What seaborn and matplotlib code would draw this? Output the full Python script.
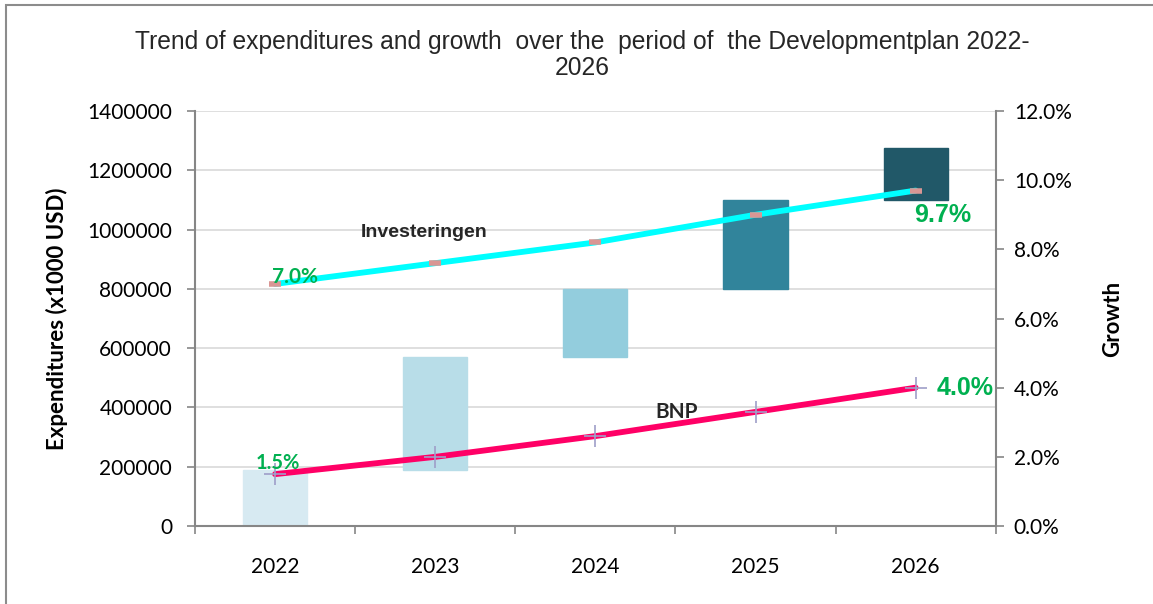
import numpy as np
import pandas as pd
import matplotlib
matplotlib.use("Agg")
import matplotlib.pyplot as plt
import seaborn as sns
from matplotlib.patches import Rectangle
from matplotlib.ticker import FuncFormatter, FixedLocator

# data
years = ["2022", "2023", "2024", "2025", "2026"]
exp_low = [0, 190000, 570000, 800000, 1100000]
exp_high = [190000, 570000, 800000, 1100000, 1275000]
invest_growth = [7.0, 7.6, 8.2, 9.0, 9.7]
bnp_growth = [1.5, 2.0, 2.6, 3.3, 4.0]
bar_colors = ["#d7eaf2", "#b8dde8", "#93cddd", "#31849b", "#215868"]

df = pd.DataFrame({"year": years,
                   "height": np.array(exp_high) - np.array(exp_low),
                   "low": exp_low})

sns.set_style("white")
plt.rcParams["font.family"] = ["Lato", "DejaVu Sans"]

fig = plt.figure(figsize=(11.53, 6.04), dpi=100)
ax = fig.add_axes([0.1691, 0.1291, 0.8636 - 0.1691, 0.8162 - 0.1291])

sns.barplot(data=df, x="year", y="height", bottom=df["low"].values,
            color=bar_colors[0], width=0.4, ax=ax, zorder=2)
for patch, c in zip(ax.patches, bar_colors):
    patch.set_facecolor(c)
    patch.set_edgecolor(c)

ax.set_ylim(0, 1400000)
ax.set_xlim(-0.5, 4.5)
ax.set_yticks(np.arange(0, 1400001, 200000))
ax.yaxis.set_major_formatter(FuncFormatter(lambda v, p: "%d" % v))
ax.grid(axis="y", color="#d9d9d9", linewidth=1.2, zorder=0)
ax.set_axisbelow(True)
ax.set_xlabel("")
ax.set_ylabel("Expenditures (x1000 USD)", fontsize=16, fontweight="bold", labelpad=14,
              color="black")
ax.tick_params(axis="y", labelsize=15, length=6, width=1.2, color="#868686", left=True,
               pad=10.5, labelcolor="black")
ax.tick_params(axis="x", which="major", labelsize=15, length=0, pad=22, labelcolor="black")
ax.xaxis.set_minor_locator(FixedLocator(np.arange(-0.5, 5, 1)))
ax.tick_params(axis="x", which="minor", length=6, width=1.2, color="#868686", bottom=True)
for s in ["top", "right"]:
    ax.spines[s].set_visible(False)
for s in ["left", "bottom"]:
    ax.spines[s].set_color("#868686")
    ax.spines[s].set_linewidth(1.5)

ax2 = ax.twinx()
xpos = np.arange(len(years))
sns.lineplot(x=xpos, y=invest_growth, ax=ax2, color="#00ffff", linewidth=4.2,
             marker="_", markersize=9, markeredgewidth=4, markeredgecolor="#d99694",
             zorder=3)
sns.lineplot(x=xpos, y=bnp_growth, ax=ax2, color="#ff0066", linewidth=4.2,
             marker="+", markersize=16, markeredgewidth=1.2, markeredgecolor="#9e9ec8",
             zorder=3)
ax2.set_ylim(0, 12)
ax2.set_xlim(-0.5, 4.5)
ax2.set_yticks(np.arange(0, 12.1, 2))
ax2.yaxis.set_major_formatter(FuncFormatter(lambda v, p: "%.1f%%" % v))
ax2.tick_params(axis="y", labelsize=15, length=6, width=1.2, color="#868686", right=True,
                pad=7, labelcolor="black")
ax2.set_ylabel("Growth", fontsize=16, fontweight="bold", labelpad=22, color="black")
for s in ["top", "left", "bottom"]:
    ax2.spines[s].set_visible(False)
ax2.spines["right"].set_color("#868686")
ax2.spines["right"].set_linewidth(1.5)

green = "#00b050"
ax2.text(-0.02, invest_growth[0] - 0.1, "%.1f%%" % invest_growth[0], color=green,
         fontsize=15, fontweight="bold", ha="left", va="bottom")
ax2.text(0.02, bnp_growth[0] + 0.02, "%.1f%%" % bnp_growth[0], color=green,
         fontsize=14.5, fontweight="bold", ha="center", va="bottom")
ax2.text(3.99, invest_growth[-1] - 0.7, "%.1f%%" % invest_growth[-1], color=green,
         fontsize=18, fontweight="bold", ha="left", va="center", family="Liberation Sans")
ax2.text(4.13, bnp_growth[-1], "%.1f%%" % bnp_growth[-1], color=green,
         fontsize=18, fontweight="bold", ha="left", va="center", family="Liberation Sans")
ax2.text(0.93, 8.49, "Investeringen", color="#262626", fontsize=14, fontweight="bold",
         ha="center", va="center", family="Liberation Sans")
ax2.text(2.51, 3.3, "BNP", color="#262626", fontsize=15, fontweight="bold",
         ha="center", va="center")

fig.text(0.505, 0.909, "Trend of expenditures and growth  over the  period of  the Developmentplan 2022-\n2026",
         ha="center", va="center", fontsize=17.7, family="Liberation Sans", linespacing=1.15)

fig.patches.append(Rectangle((6 / 1153, -0.1), 1.2, 1.1 - 5 / 604,
                             transform=fig.transFigure, fill=False,
                             edgecolor="#8c8c8c", linewidth=1.5))

fig.savefig("out.png", dpi=100)
